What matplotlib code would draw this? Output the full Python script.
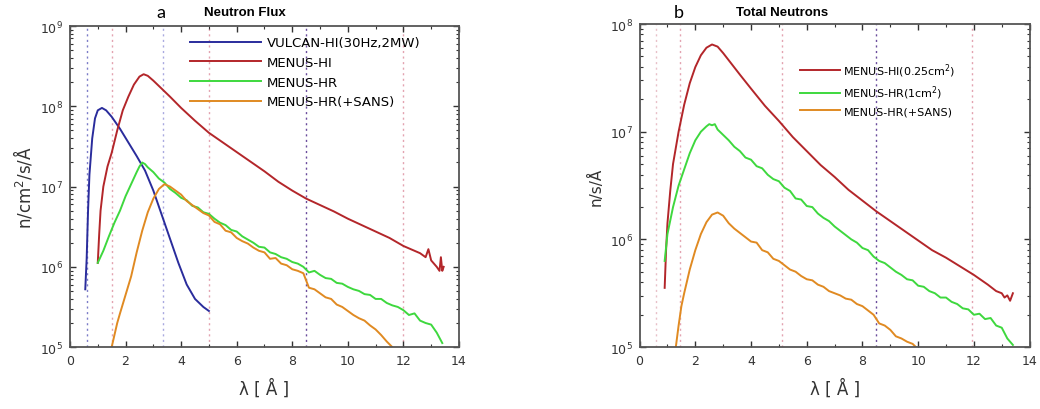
import numpy as np
import matplotlib
matplotlib.use("Agg")
import matplotlib.pyplot as plt
from matplotlib.ticker import MultipleLocator, LogLocator, NullFormatter

plt.rcParams['font.family'] = ['DejaVu Sans']
plt.rcParams['mathtext.default'] = 'regular'

# ---- panel a: Neutron Flux (log10 of n/cm^2/s/A) ----
blue_x = [0.55, 0.6, 0.65, 0.7, 0.8, 0.9, 1.0, 1.15, 1.3, 1.5, 1.8, 2.1, 2.4, 2.7, 3.0,
          3.3, 3.6, 3.9, 4.2, 4.5, 4.8, 5.0]
blue_y = [5.72, 6.1, 6.7, 7.15, 7.6, 7.85, 7.95, 7.98, 7.95, 7.87, 7.72, 7.55, 7.38, 7.2, 6.95,
          6.65, 6.35, 6.05, 5.78, 5.6, 5.5, 5.45]

red_a_x = [1.0, 1.05, 1.1, 1.2, 1.35, 1.5, 1.7, 1.9, 2.1, 2.3,
           2.5, 2.65, 2.8, 3.0, 3.3, 3.6, 4.0, 4.5, 5.0, 5.5,
           6.0, 6.5, 7.0, 7.5, 8.0, 8.5, 9.0, 9.5, 10.0, 10.5,
           11.0, 11.5, 12.0, 12.4, 12.6, 12.8, 12.9, 13.0, 13.1, 13.2,
           13.3, 13.35, 13.4, 13.45]
red_a_y = [6.05, 6.4, 6.7, 7.0, 7.25, 7.42, 7.7, 7.95, 8.12, 8.27,
           8.37, 8.40, 8.38, 8.32, 8.22, 8.12, 7.98, 7.82, 7.67, 7.55,
           7.43, 7.31, 7.19, 7.06, 6.95, 6.85, 6.77, 6.69, 6.6, 6.52,
           6.44, 6.36, 6.26, 6.2, 6.17, 6.12, 6.22, 6.08, 6.04, 6.0,
           5.95, 6.12, 5.95, 6.0]

green_a_x = [1.0, 1.2, 1.4, 1.6, 1.8, 2.0, 2.2, 2.4, 2.5, 2.6, 2.7, 2.8,
             3.0, 3.2, 3.4, 3.6, 3.8, 4.0, 4.2, 4.4, 4.6, 4.8,
             5.0, 5.2, 5.4, 5.6, 5.8, 6.0, 6.2, 6.4, 6.6, 6.8,
             7.0, 7.2, 7.4, 7.6, 7.8, 8.0, 8.2, 8.4, 8.6, 8.8,
             9.0, 9.2, 9.4, 9.6, 9.8, 10.0, 10.2, 10.4, 10.6, 10.8,
             11.0, 11.2, 11.4, 11.6, 11.8, 12.0, 12.2, 12.4, 12.6, 12.8,
             13.0, 13.2, 13.4]
green_a_y = [6.05, 6.2, 6.38, 6.55, 6.7, 6.88, 7.03, 7.18, 7.25, 7.3, 7.28, 7.24,
             7.18, 7.1, 7.05, 6.97, 6.92, 6.86, 6.83, 6.76, 6.74, 6.68,
             6.66, 6.6, 6.55, 6.52, 6.46, 6.44, 6.38, 6.34, 6.3, 6.25,
             6.24, 6.18, 6.16, 6.12, 6.1, 6.06, 6.04, 6.0, 5.93, 5.95,
             5.9, 5.86, 5.85, 5.8, 5.79, 5.75, 5.72, 5.7, 5.66, 5.65,
             5.6, 5.6, 5.55, 5.52, 5.5, 5.46, 5.4, 5.42, 5.33, 5.3,
             5.28, 5.18, 5.05]

orange_a_x = [1.5, 1.6, 1.7, 1.8, 2.0, 2.2, 2.4, 2.6, 2.8, 3.0, 3.2, 3.4,
              3.6, 3.8, 4.0, 4.2, 4.4, 4.6, 4.8, 5.0, 5.2, 5.4,
              5.6, 5.8, 6.0, 6.2, 6.4, 6.6, 6.8, 7.0, 7.2, 7.4,
              7.6, 7.8, 8.0, 8.2, 8.4, 8.6, 8.8, 9.0, 9.2, 9.4,
              9.6, 9.8, 10.0, 10.2, 10.4, 10.6, 10.8, 11.0, 11.2, 11.4,
              11.6]
orange_a_y = [5.0, 5.15, 5.3, 5.42, 5.65, 5.88, 6.18, 6.45, 6.68, 6.85, 6.97, 7.03,
              7.0, 6.95, 6.9, 6.82, 6.77, 6.72, 6.67, 6.64, 6.56, 6.53,
              6.45, 6.43, 6.36, 6.32, 6.29, 6.24, 6.2, 6.18, 6.1, 6.11,
              6.04, 6.02, 5.97, 5.95, 5.92, 5.74, 5.72, 5.67, 5.62, 5.6,
              5.53, 5.5, 5.45, 5.4, 5.36, 5.33, 5.27, 5.22, 5.15, 5.07,
              5.0]

# ---- panel b: Total Neutrons (log10 of n/s/A) ----
red_b_x = [0.9, 0.95, 1.0, 1.1, 1.2, 1.4, 1.6, 1.8, 2.0, 2.2,
           2.4, 2.6, 2.8, 3.0, 3.3, 3.6, 4.0, 4.5, 5.0, 5.5,
           6.0, 6.5, 7.0, 7.5, 8.0, 8.5, 9.0, 9.5, 10.0, 10.5,
           11.0, 11.5, 12.0, 12.5, 12.8, 13.0, 13.1, 13.2, 13.3, 13.4]
red_b_y = [5.55, 5.9, 6.15, 6.45, 6.7, 7.0, 7.25, 7.45, 7.6, 7.71,
           7.78, 7.81, 7.79, 7.73, 7.63, 7.53, 7.4, 7.24, 7.1, 6.95,
           6.82, 6.69, 6.58, 6.46, 6.36, 6.26, 6.17, 6.08, 5.99, 5.9,
           5.83, 5.75, 5.67, 5.58, 5.52, 5.5, 5.46, 5.48, 5.43, 5.5]

green_b_x = [0.9, 1.0, 1.2, 1.4, 1.6, 1.8, 2.0, 2.2, 2.4, 2.5, 2.6, 2.7, 2.8,
             3.0, 3.2, 3.4, 3.6, 3.8, 4.0, 4.2, 4.4, 4.6, 4.8,
             5.0, 5.2, 5.4, 5.6, 5.8, 6.0, 6.2, 6.4, 6.6, 6.8,
             7.0, 7.2, 7.4, 7.6, 7.8, 8.0, 8.2, 8.4, 8.6, 8.8,
             9.0, 9.2, 9.4, 9.6, 9.8, 10.0, 10.2, 10.4, 10.6, 10.8,
             11.0, 11.2, 11.4, 11.6, 11.8, 12.0, 12.2, 12.4, 12.6, 12.8,
             13.0, 13.2, 13.4]
green_b_y = [5.8, 6.05, 6.3, 6.5, 6.65, 6.8, 6.92, 7.0, 7.05, 7.07, 7.06, 7.07, 7.02,
             6.97, 6.92, 6.86, 6.82, 6.76, 6.74, 6.68, 6.66, 6.6, 6.56,
             6.54, 6.48, 6.45, 6.38, 6.37, 6.31, 6.3, 6.24, 6.2, 6.17,
             6.12, 6.08, 6.04, 6.0, 5.97, 5.92, 5.9, 5.84, 5.8, 5.78,
             5.74, 5.7, 5.67, 5.63, 5.62, 5.57, 5.56, 5.52, 5.5, 5.46,
             5.46, 5.42, 5.4, 5.36, 5.35, 5.3, 5.31, 5.26, 5.27, 5.2,
             5.18, 5.08, 5.02]

orange_b_x = [1.3, 1.4, 1.5, 1.6, 1.8, 2.0, 2.2, 2.4, 2.6, 2.8,
              3.0, 3.2, 3.4, 3.6, 3.8, 4.0, 4.2, 4.4, 4.6, 4.8,
              5.0, 5.2, 5.4, 5.6, 5.8, 6.0, 6.2, 6.4, 6.6, 6.8,
              7.0, 7.2, 7.4, 7.6, 7.8, 8.0, 8.2, 8.4, 8.6, 8.8,
              9.0, 9.2, 9.4, 9.6, 9.8, 10.0]
orange_b_y = [5.0, 5.2, 5.38, 5.5, 5.72, 5.9, 6.05, 6.16, 6.23, 6.25,
              6.22, 6.15, 6.1, 6.06, 6.02, 5.98, 5.97, 5.9, 5.88, 5.82,
              5.8, 5.76, 5.72, 5.7, 5.66, 5.63, 5.62, 5.58, 5.56, 5.52,
              5.5, 5.48, 5.45, 5.44, 5.4, 5.38, 5.34, 5.3, 5.22, 5.2,
              5.16, 5.1, 5.08, 5.05, 5.03, 4.98]

# dotted guide lines (wavelength, colour)
guides_a = [(0.6, '#7c7cc8'), (1.5, '#e3a3b0'), (3.35, '#a9a9e0'), (5.0, '#e3a3b0'),
            (8.5, '#6a4c9c'), (12.0, '#e3a3b0')]
guides_b = [(0.6, '#e8c0c8'), (1.45, '#e3a3b0'), (5.1, '#e3a3b0'),
            (8.5, '#6a4c9c'), (11.95, '#e3a3b0')]

BLUE = '#2a2c9c'
RED = '#b3262a'
GREEN = '#3ed83e'
ORANGE = '#e08a22'

fig = plt.figure(figsize=(10.4, 4.1), dpi=100)
ax1 = fig.add_axes([0.0673, 0.151, 0.374, 0.783])
ax2 = fig.add_axes([0.615, 0.151, 0.375, 0.788])


def style(ax, ymin, ymax):
    ax.set_yscale('log')
    ax.set_xlim(0, 14)
    ax.set_ylim(ymin, ymax)
    ax.xaxis.set_major_locator(MultipleLocator(2))
    ax.xaxis.set_minor_locator(MultipleLocator(1))
    ax.yaxis.set_major_locator(LogLocator(base=10, numticks=10))
    ax.yaxis.set_minor_locator(LogLocator(base=10, subs=np.arange(2, 10), numticks=100))
    ax.yaxis.set_minor_formatter(NullFormatter())
    ax.tick_params(which='both', direction='in', top=True, right=True,
                   labelsize=9, colors='#333333')
    ax.tick_params(axis='x', pad=5)
    ax.tick_params(axis='y', pad=5)
    ax.tick_params(which='major', length=4, width=1.0)
    ax.tick_params(which='minor', length=2, width=0.8)
    for s in ax.spines.values():
        s.set_color('#555555')
        s.set_linewidth(1.3)
    ax.set_xlabel('λ [ Å ]', fontsize=12, color='#333333', labelpad=8)


for x, c in guides_a:
    ax1.axvline(x, color=c, ls=(0, (1.5, 2.5)), lw=1.0, zorder=1)
ax1.plot(blue_x, 10 ** np.array(blue_y), color=BLUE, lw=1.4, label='VULCAN-HI(30Hz,2MW)')
ax1.plot(red_a_x, 10 ** np.array(red_a_y), color=RED, lw=1.4, label='MENUS-HI')
ax1.plot(green_a_x, 10 ** np.array(green_a_y), color=GREEN, lw=1.4, label='MENUS-HR')
ax1.plot(orange_a_x, 10 ** np.array(orange_a_y), color=ORANGE, lw=1.4, label='MENUS-HR(+SANS)')
style(ax1, 1e5, 1e9)
ax1.set_ylabel('n/cm$^2$/s/Å', fontsize=12, color='#333333')
ax1.legend(loc='upper left', bbox_to_anchor=(0.308, 0.968), frameon=False, fontsize=9.5,
           handlelength=5.4, labelspacing=0.5, handletextpad=0.45, borderaxespad=0,
           borderpad=0)

for x, c in guides_b:
    ax2.axvline(x, color=c, ls=(0, (1.5, 2.5)), lw=1.0, zorder=1)
ax2.plot(red_b_x, 10 ** np.array(red_b_y), color=RED, lw=1.4, label='MENUS-HI(0.25cm$^2$)')
ax2.plot(green_b_x, 10 ** np.array(green_b_y), color=GREEN, lw=1.4, label='MENUS-HR(1cm$^2$)')
ax2.plot(orange_b_x, 10 ** np.array(orange_b_y), color=ORANGE, lw=1.4, label='MENUS-HR(+SANS)')
style(ax2, 1e5, 1e8)
ax2.set_ylabel('n/s/Å', fontsize=11, color='#333333')
ax2.legend(loc='upper left', bbox_to_anchor=(0.41, 0.884), frameon=False, fontsize=8,
           handlelength=3.6, labelspacing=0.42, handletextpad=0.35, borderaxespad=0,
           borderpad=0)

fig.text(0.150, 0.955, 'a', fontsize=13, family=['Lato', 'DejaVu Sans'], va='baseline')
fig.text(0.235, 0.96, 'Neutron Flux', fontsize=9.5, fontweight='bold', ha='center',
         va='baseline', family=['Liberation Sans', 'DejaVu Sans'])
fig.text(0.648, 0.955, 'b', fontsize=13, family=['Lato', 'DejaVu Sans'], va='baseline')
fig.text(0.752, 0.96, 'Total Neutrons', fontsize=9.5, fontweight='bold', ha='center',
         va='baseline', family=['Liberation Sans', 'DejaVu Sans'])

fig.savefig('out.png', dpi=100)
